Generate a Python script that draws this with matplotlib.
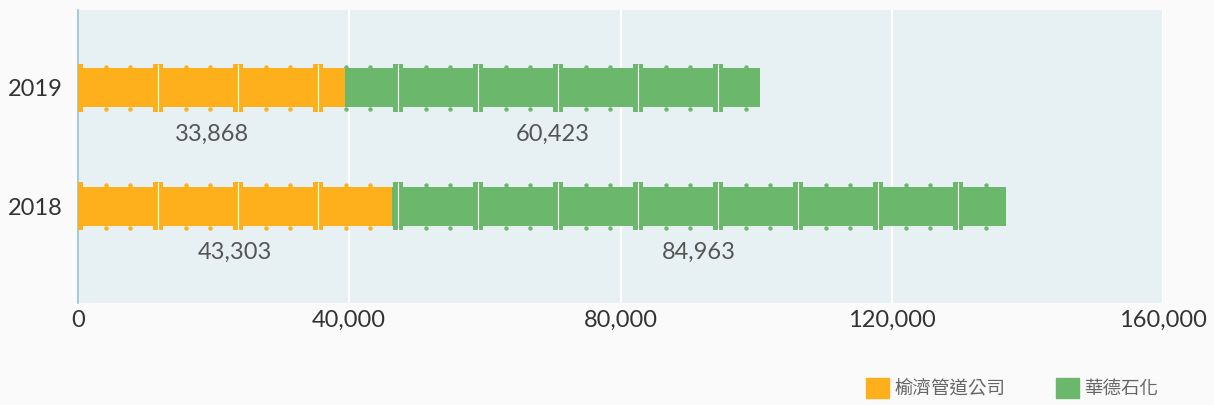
import matplotlib.pyplot as plt
from matplotlib.patches import Patch

years = ['2018', '2019']
companies = ['榆濟管道公司', '華德石化']
yuji_values = [43303, 33868]
huade_values = [84963, 60423]
# pipe lengths as they are drawn in the picture (longer than the labels)
yuji_drawn = [46350, 39400]
huade_drawn = [90500, 61200]
x_ticks = [0, 40000, 80000, 120000, 160000]

ORANGE = '#fdb01b'
GREEN = '#6bb76b'
SEG = 11800  # one pipe section between flanges

plt.rcParams['font.family'] = ['Lato', 'Noto Sans CJK TC', 'DejaVu Sans']


def draw_pipe(ax, y, start, length, color):
    end = start + length
    ax.barh(y, length, left=start, height=0.331, color=color, zorder=3)
    k = 0
    while k * SEG < end:
        b = k * SEG
        lo = max(b - 0.0625 * SEG, start)
        hi = min(b + 0.0625 * SEG, end)
        if hi > lo:
            ax.barh(y, hi - lo, left=lo, height=0.404, color=color, zorder=3)
            if start < b < end:
                ax.vlines(b, y - 0.202, y + 0.202, color='white', lw=0.8, zorder=4)
        for f in (0.35, 0.65):
            d = b + f * SEG
            if start < d < end:
                ax.scatter([d, d], [y - 0.179, y + 0.179], s=10, color=color,
                           linewidths=0, zorder=3)
        k += 1


fig = plt.figure(figsize=(12.14, 4.05), dpi=100, facecolor='#fafafa')
ax = fig.add_axes([78 / 1214, 102 / 405, 1085 / 1214, 293 / 405])
ax.set_facecolor('#e7f0f2')

for i in range(len(years)):
    draw_pipe(ax, i, 0, yuji_drawn[i], ORANGE)
    draw_pipe(ax, i, yuji_drawn[i], huade_drawn[i], GREEN)
    ax.text(yuji_drawn[i] / 2, i - 0.39, f'{yuji_values[i]:,}', ha='center',
            va='center', fontsize=17, color='#555555')
    ax.text(yuji_drawn[i] + huade_drawn[i] / 2, i - 0.39, f'{huade_values[i]:,}',
            ha='center', va='center', fontsize=17, color='#555555')

ax.set_xlim(0, 160000)
ax.set_ylim(-0.813, 1.655)
ax.set_xticks(x_ticks, [f'{v:,}' for v in x_ticks])
ax.set_yticks(range(len(years)), years)
ax.tick_params(length=0, labelsize=17, labelcolor='#333333')
ax.tick_params(axis='y', pad=11)
ax.tick_params(axis='x', pad=5)
ax.xaxis.grid(True, color='white', lw=1.6)
ax.set_axisbelow(True)
for s in ['top', 'right', 'bottom']:
    ax.spines[s].set_visible(False)
ax.spines['left'].set_color('#92c5ce')
ax.spines['left'].set_linewidth(1.2)

fig.legend(handles=[Patch(color=ORANGE), Patch(color=GREEN)], labels=companies,
           loc='upper left', bbox_to_anchor=(866 / 1214, 27 / 405), frameon=False,
           ncol=2, borderpad=0, borderaxespad=0, handlelength=1.25, handleheight=1.25,
           handletextpad=0.3, columnspacing=2.7, labelcolor='#666666',
           prop={'family': 'Noto Sans CJK TC', 'size': 13.3})

fig.savefig('out.png', dpi=100, facecolor=fig.get_facecolor())
